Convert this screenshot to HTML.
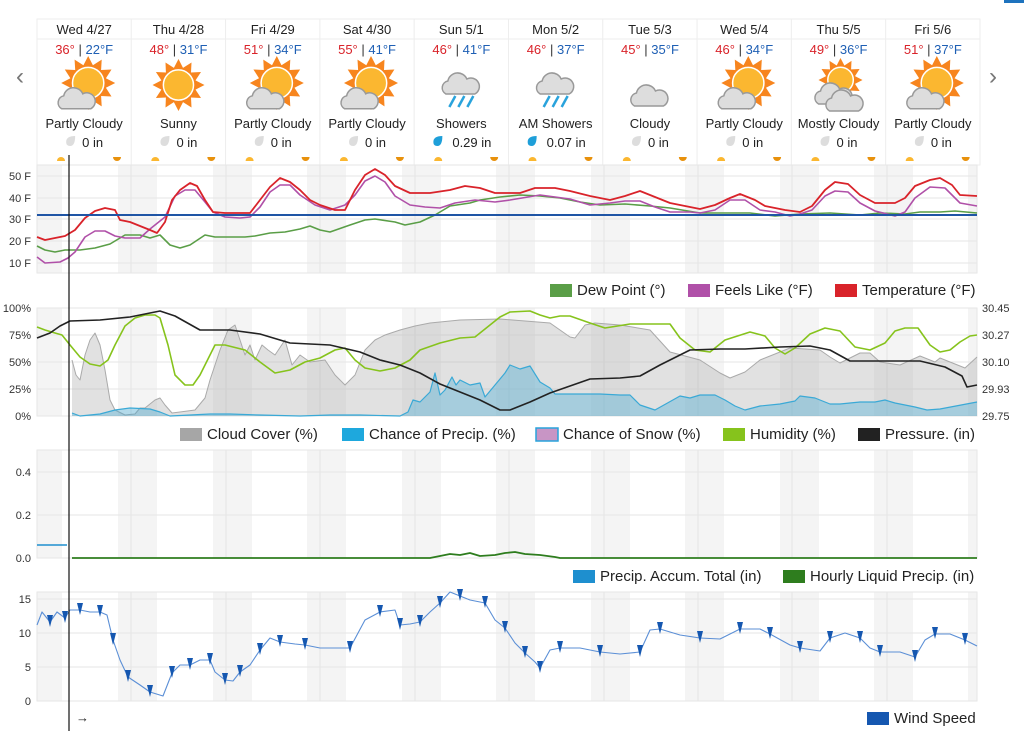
<!DOCTYPE html>
<html><head><meta charset="utf-8"><style>
body{margin:0;width:1024px;height:737px;background:#fff;font-family:"Liberation Sans",sans-serif;overflow:hidden;position:relative}
svg{position:absolute;left:0;top:0}
</style></head><body>
<svg id="s" width="1024" height="737" xmlns="http://www.w3.org/2000/svg" font-family="Liberation Sans, sans-serif"></svg>
<script>
const S=document.getElementById('s');let h='';
const days=[["Wed 4/27","36°","22°F","pc","Partly Cloudy","0 in"],["Thu 4/28","48°","31°F","sun","Sunny","0 in"],["Fri 4/29","51°","34°F","pc","Partly Cloudy","0 in"],["Sat 4/30","55°","41°F","pc","Partly Cloudy","0 in"],["Sun 5/1","46°","41°F","rain","Showers","0.29 in"],["Mon 5/2","46°","37°F","rain","AM Showers","0.07 in"],["Tue 5/3","45°","35°F","cloud","Cloudy","0 in"],["Wed 5/4","46°","34°F","pc","Partly Cloudy","0 in"],["Thu 5/5","49°","36°F","mc","Mostly Cloudy","0 in"],["Fri 5/6","51°","37°F","pc","Partly Cloudy","0 in"]];
const W=94.3,X0=37;
function sun(cx,cy,r){let p='';for(let i=0;i<24;i++){let a=i*Math.PI/12,rr=i%2?r*0.68:r;p+=(cx+rr*Math.cos(a)).toFixed(1)+','+(cy+rr*Math.sin(a)).toFixed(1)+' ';}
return `<polygon points="${p}" fill="#f7851e"/><circle cx="${cx}" cy="${cy}" r="${r*0.58}" fill="#fbb730" stroke="#fff" stroke-width="1.5"/>`;}
function cloud(cx,cy,s,f){return `<g fill="${f}" stroke="#999" stroke-width="1.5"><path d="M${cx-14*s},${cy+8*s} a7,7 0 0 1 2,-13 a10,10 0 0 1 19,-2 a7,7 0 0 1 8,15 z" /></g>`;}
for(let i=0;i<10;i++){const x=X0+i*W,c=x+W/2,d=days[i];
h+=`<rect x="${x}" y="19" width="${W}" height="146" fill="#fff" stroke="#eee"/><line x1="${x}" y1="39" x2="${x+W}" y2="39" stroke="#eee"/>`;
h+=`<text x="${c}" y="34" font-size="13" text-anchor="middle" fill="#222">${d[0]}</text>`;
h+=`<text x="${c}" y="54" font-size="13" text-anchor="middle"><tspan fill="#d9232a">${d[1]}</tspan><tspan fill="#333"> | </tspan><tspan fill="#1e5fb4">${d[2]}</tspan></text>`;
const t=d[3];
if(t=='sun')h+=sun(c,85,26);
if(t=='pc'){h+=sun(c+4,83,27);h+=cloud(c-7,100,1.1,"#ddd");}
if(t=='mc'){h+=sun(c+2,80,22);h+=cloud(c-6,96,1,"#ddd");h+=cloud(c+5,103,1,"#ddd");}
if(t=='cloud')h+=cloud(c+2,96,1.25,"#ddd");
if(t=='rain'){h+=cloud(c+2,84,1.25,"#ddd");for(let k=-1;k<2;k++)h+=`<line x1="${c+k*9+3}" y1="96" x2="${c+k*9-3}" y2="107" stroke="#29a3dc" stroke-width="2.5"/>`;}
h+=`<text x="${c}" y="128" font-size="13" text-anchor="middle" fill="#222">${d[4]}</text>`;
const rain=t=='rain',rc=rain?'#1e9fd9':'#ddd',dx=rain?c-28:c-18,tx=rain?c-9:c-2;
h+=`<path d="M${dx+9},136 q-9,0 -9,6 q0,4 4,4 q5,0 5,-10z" fill="${rc}"/>`;
h+=`<text x="${tx}" y="147" font-size="13" fill="#222">${d[5]}</text>`;
h+=`<path d="M${x+20},161 a4,4 0 0 1 8,0z" fill="#fbb730"/><path d="M${x+76},157 a4,4 0 0 0 8,0z" fill="#e8910c"/>`;
}
h+=`<text x="20" y="84" font-size="24" fill="#777" text-anchor="middle">‹</text><text x="993" y="84" font-size="24" fill="#777" text-anchor="middle">›</text>`;
h+=`<rect x="1004" y="0" width="20" height="3" fill="#1e73be"/>`;
const bands=[[37,62],[118,157],[213,252],[307,346],[402,441],[496,535],[591,630],[685,724],[780,819],[874,913],[968,977]];
const dl=[131,226,320,415,509,604,698,792,887];
function grid(y0,y1,ys){let g=`<rect x="37" y="${y0}" width="940" height="${y1-y0}" fill="#fff"/>`;
bands.forEach(b=>g+=`<rect x="${b[0]}" y="${y0}" width="${b[1]-b[0]}" height="${y1-y0}" fill="#f4f4f4"/>`);
dl.forEach(x=>g+=`<line x1="${x}" y1="${y0}" x2="${x}" y2="${y1}" stroke="#e4e4e4"/>`);
ys.forEach(y=>g+=`<line x1="37" y1="${y}" x2="977" y2="${y}" stroke="#e6e6e6"/>`);
g+=`<rect x="37" y="${y0}" width="940" height="${y1-y0}" fill="none" stroke="#e6e6e6"/>`;return g;}
function pl(a,c,w){return `<polyline points="${a.map(p=>p.join(',')).join(' ')}" fill="none" stroke="${c}" stroke-width="${w}" stroke-linejoin="round"/>`;}
function ar(a,c,base,op){return `<polygon points="${a[0][0]},${base} ${a.map(p=>p.join(',')).join(' ')} ${a[a.length-1][0]},${base}" fill="${c}" fill-opacity="${op}"/>`;}
function tk(x,y,t,anc){return `<text x="${x}" y="${y+4}" font-size="11" fill="#333" text-anchor="${anc||'end'}">${t}</text>`;}
h+=grid(165,273,[176,198,219,241,263]);
[[176,"50 F"],[198,"40 F"],[219,"30 F"],[241,"20 F"],[263,"10 F"]].forEach(v=>h+=tk(31,v[0],v[1]));
const temp=[[37,237],[45,240],[55,238],[65,236],[75,230],[85,218],[95,211],[105,208],[115,210],[120,220],[130,222],[140,226],[150,230],[157,233],[165,222],[172,200],[180,190],[190,183],[197,186],[205,200],[213,212],[225,213],[250,213],[260,200],[270,187],[280,178],[290,182],[300,190],[310,200],[320,205],[335,210],[345,210],[355,190],[365,175],[375,169],[385,175],[395,186],[410,193],[430,193],[450,190],[465,186],[480,188],[495,193],[520,193],[535,188],[555,188],[570,191],[590,196],[610,200],[625,196],[640,191],[655,197],[670,203],[690,207],[700,209],[715,205],[730,198],[740,194],[755,200],[765,206],[785,210],[800,212],[812,206],[825,190],[835,182],[848,184],[860,195],[875,203],[895,203],[905,198],[915,186],[930,180],[940,178],[952,185],[960,195],[977,196]];
const feel=[[37,257],[45,263],[60,262],[68,258],[75,252],[85,237],[95,231],[105,231],[115,236],[125,238],[140,238],[150,229],[165,217],[175,196],[185,190],[195,190],[205,202],[213,212],[225,217],[240,218],[250,217],[260,207],[270,192],[280,185],[290,185],[300,195],[315,205],[330,210],[345,205],[355,195],[365,181],[375,176],[385,182],[395,196],[410,205],[425,207],[440,208],[455,203],[475,200],[495,202],[510,200],[540,195],[555,197],[570,199],[590,205],[610,203],[625,201],[640,201],[655,207],[670,212],[690,212],[700,213],[715,210],[730,200],[745,200],[760,210],[775,212],[790,216],[800,214],[812,210],[825,196],[835,191],[848,192],[860,203],[875,211],[895,216],[905,212],[915,198],[930,187],[945,188],[960,203],[977,206]];
const dew=[[37,246],[45,250],[55,252],[65,250],[80,250],[95,248],[110,244],[125,235],[140,235],[150,238],[160,235],[170,245],[180,248],[190,245],[205,235],[215,237],[245,237],[255,236],[270,233],[285,232],[300,229],[310,226],[320,230],[330,232],[350,225],[365,220],[375,219],[395,222],[405,225],[420,222],[435,215],[450,206],[470,203],[480,200],[500,197],[520,195],[540,196],[560,198],[580,202],[600,205],[625,204],[650,206],[670,208],[700,213],[720,213],[750,213],[775,216],[800,214],[830,213],[860,215],[880,213],[905,214],[920,212],[940,212],[955,211],[977,213]];
h+=pl(dew,"#5a9e47",1.6)+pl(feel,"#b050a8",1.6)+pl(temp,"#d9232a",1.8);
h+=`<line x1="37" y1="215" x2="977" y2="215" stroke="#1f55a5" stroke-width="2"/>`;
function leg(y,items){let g='';items.forEach(i=>{g+=`<rect x="${i[0]}" y="${y-6}" width="22" height="13" fill="${i[1]}" ${i[3]?'stroke="'+i[3]+'" stroke-width="1.5"':''}/><text x="${i[0]+27}" y="${y+5}" font-size="15" fill="#222">${i[2]}</text>`});return g;}
h+=leg(290,[[550,"#5a9e47","Dew Point (°)"],[688,"#b050a8","Feels Like (°F)"],[835,"#d9232a","Temperature (°F)"]]);
h+=grid(308,416,[308,335,362,389,416]);
[[308,"100%"],[335,"75%"],[362,"50%"],[389,"25%"],[416,"0%"]].forEach(v=>h+=tk(31,v[0],v[1]));
[[308,"30.45"],[335,"30.27"],[362,"30.10"],[389,"29.93"],[416,"29.75"]].forEach(v=>h+=tk(982,v[0],v[1],'start'));
const cc=[[72,360],[76,375],[80,380],[85,355],[90,340],[95,333],[100,345],[105,370],[110,400],[115,410],[125,415],[135,414],[140,408],[145,408],[155,400],[160,398],[165,405],[172,413],[180,412],[195,410],[205,398],[210,380],[215,365],[220,350],[228,330],[235,325],[240,340],[245,355],[250,345],[255,360],[262,345],[268,350],[275,355],[285,340],[292,365],[300,355],[310,362],[325,360],[335,375],[345,385],[355,375],[365,350],[375,340],[385,335],[400,330],[415,326],[430,323],[460,320],[500,319],[550,323],[570,337],[575,338],[585,325],[595,323],[620,325],[650,330],[670,352],[700,360],[720,373],[730,378],[745,372],[760,360],[790,348],[820,350],[830,357],[840,363],[860,353],[870,353],[880,362],[900,365],[920,356],[935,362],[940,358],[950,362],[965,368],[977,357]];
h+=ar(cc,"#aaa",416,0.35)+pl(cc,"#aaa",1);
const cp=[[72,413],[80,416],[100,414],[115,410],[130,408],[150,409],[160,412],[170,416],[210,414],[230,414],[260,415],[300,416],[330,415],[360,415],[400,416],[408,412],[413,400],[420,402],[430,392],[435,373],[440,395],[445,390],[452,377],[456,385],[460,380],[470,385],[480,383],[485,397],[495,385],[505,373],[510,365],[520,369],[530,366],[540,382],[550,388],[555,394],[600,394],[620,395],[630,395],[640,405],[655,410],[680,396],[690,398],[700,395],[715,395],[725,400],[735,406],[745,410],[760,406],[780,404],[795,401],[800,396],[815,398],[830,404],[840,404],[860,402],[875,402],[885,400],[895,403],[905,405],[915,407],[927,410],[940,409],[977,402]];
h+=ar(cp,"#3aa9d6",416,0.35)+pl(cp,"#3aa9d6",1.2);
const hu=[[37,327],[45,330],[55,333],[62,335],[70,345],[80,357],[90,364],[100,366],[108,360],[115,345],[125,326],[135,318],[145,315],[155,315],[160,318],[168,345],[175,375],[185,385],[193,385],[200,375],[210,355],[215,345],[225,345],[245,350],[260,362],[275,373],[290,370],[305,362],[320,358],[335,350],[345,348],[355,360],[365,368],[380,371],[395,368],[410,360],[420,350],[440,343],[460,338],[475,337],[490,325],[500,317],[510,312],[530,311],[540,315],[550,318],[560,316],[570,316],[590,323],[605,328],[630,324],[650,324],[670,324],[680,338],[695,350],[710,352],[725,340],[750,332],[765,336],[775,348],[785,354],[795,348],[810,334],[825,328],[840,331],[855,347],[870,350],[885,343],[895,331],[905,328],[918,328],[930,345],[940,352],[950,350],[960,342],[970,336],[977,335]];
h+=pl(hu,"#86c31c",1.6);
const pr=[[37,338],[50,333],[60,326],[70,321],[100,320],[130,317],[150,313],[160,311],[175,316],[200,330],[230,330],[260,334],[290,343],[330,345],[360,352],[380,360],[400,365],[420,373],[440,384],[460,392],[480,400],[500,410],[510,410],[530,402],[550,393],[570,386],[590,379],[620,378],[640,376],[660,365],[690,350],[720,349],[745,349],[780,347],[810,346],[830,350],[850,361],[880,361],[920,361],[945,367],[962,376],[967,387],[977,385]];
h+=pl(pr,"#222",1.6);
h+=leg(434,[[180,"#a6a6a6","Cloud Cover (%)"],[342,"#1ea8dd","Chance of Precip. (%)"],[536,"#c895c5","Chance of Snow (%)","#29a3dc"],[723,"#86c31c","Humidity (%)"],[858,"#222","Pressure. (in)"]]);
h+=grid(450,558,[472,515,558]);
[[472,"0.4"],[515,"0.2"],[558,"0.0"]].forEach(v=>h+=tk(31,v[0],v[1]));
h+=`<line x1="37" y1="545" x2="67" y2="545" stroke="#1e8fcf" stroke-width="1.5"/>`;
h+=pl([[72,558],[430,558],[440,556],[450,554],[460,555],[470,553],[480,556],[495,555],[505,553],[515,552],[525,554],[540,555],[555,557],[560,558],[977,558]],"#2e7d1e",1.8);
h+=leg(576,[[573,"#1e8fcf","Precip. Accum. Total (in)"],[783,"#2e7d1e","Hourly Liquid Precip. (in)"]]);
h+=grid(592,701,[599,633,667,701]);
[[599,"15"],[633,"10"],[667,"5"],[701,"0"]].forEach(v=>h+=tk(31,v[0],v[1]));
const wd=[[37,625],[42,612],[50,622],[57,612],[65,618],[70,610],[80,610],[90,612],[100,612],[107,615],[113,640],[120,660],[128,677],[140,685],[150,692],[163,696],[172,673],[180,665],[190,665],[200,660],[210,660],[215,672],[225,680],[233,681],[240,672],[250,665],[260,650],[270,638],[280,642],[295,644],[305,645],[320,648],[350,648],[365,620],[380,612],[395,610],[400,625],[410,624],[420,622],[430,612],[440,603],[450,592],[460,596],[470,600],[485,603],[495,620],[505,628],[515,643],[525,653],[535,662],[540,668],[550,650],[560,648],[580,648],[600,652],[620,654],[640,652],[650,630],[660,629],[680,635],[700,638],[720,639],[740,629],[760,629],[770,634],[790,645],[800,648],[820,651],[830,638],[845,633],[860,638],[870,648],[880,652],[900,652],[915,657],[925,640],[935,634],[950,634],[965,640],[977,646]];
h+=pl(wd,"#5b8fd6",1.1);
wd.forEach((p,i)=>{if(i%2==0&&p[0]>40&&p[0]<975)h+=`<polygon points="${p[0]-3},${p[1]-7} ${p[0]+3},${p[1]-7} ${p[0]},${p[1]+5}" fill="#1557b0"/>`;});
h+=leg(718,[[867,"#1557b0","Wind Speed"]]);
h+=`<text x="76" y="722" font-size="13" fill="#222">→</text>`;
h+=`<line x1="69" y1="155" x2="69" y2="731" stroke="#111" stroke-width="1.2"/>`;
S.innerHTML=h;
</script>
</body></html>
